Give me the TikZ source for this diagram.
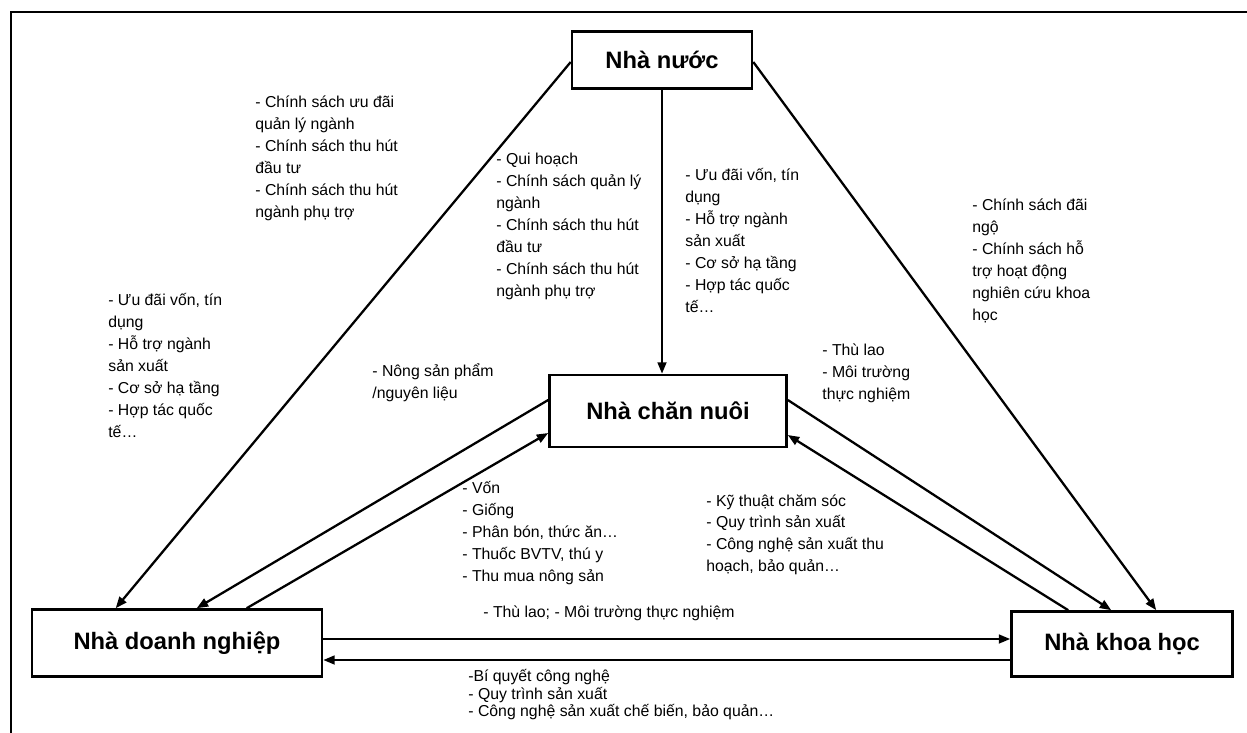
\documentclass[tikz,border=0pt]{standalone}
\usepackage{fontspec}
\setmainfont{Liberation Sans}
\usetikzlibrary{arrows.meta, calc}

\begin{document}
\begin{tikzpicture}[x=0.02cm, y=-0.02cm,
  box/.style={
    rectangle, draw=black, fill=white, line width=1.5pt,
    inner sep=0pt, align=center,
    font=\fontsize{13.5}{16}\selectfont\bfseries
  },
  note/.style={
    anchor=north west, align=left, inner sep=0pt,
    font=\fontsize{9}{12.5}\selectfont
  },
  arrow/.style={
    -{Triangle[length=6.5pt,width=5pt]}, line width=1.3pt
  }
]
\useasboundingbox (0,0) rectangle (1247,733);

% Frame
\draw[line width=1.3pt] (11,733) -- (11,12) -- (1247,12);

% Actors
\node[box, minimum width=3.6cm, minimum height=1.14cm] (nn) at (662,60) {Nhà nước};
\node[box, minimum width=4.74cm, minimum height=1.44cm] (cn) at (668,411) {Nhà chăn nuôi};
\node[box, minimum width=5.8cm, minimum height=1.34cm] (dn) at (177,643) {Nhà doanh nghiệp};
\node[box, minimum width=4.42cm, minimum height=1.3cm] (kh) at (1122,644) {Nhà khoa học};

% Nha nuoc -> others
\draw[arrow] ($(nn.west)+(0,2)$) -- ($(dn.north west)+(85,0)$);
\draw[arrow] (nn.south) -- (nn.south |- cn.north);
\draw[arrow] ($(nn.east)+(0,2)$) -- ($(kh.north west)+(146,0)$);

% Nha chan nuoi <-> Nha doanh nghiep
\draw[arrow] ($(cn.west)+(0,-11)$) -- ($(dn.north west)+(166,0)$);
\draw[arrow] ($(dn.north west)+(216,0)$) -- ($(cn.west)+(0,22)$);

% Nha chan nuoi <-> Nha khoa hoc
\draw[arrow] ($(cn.east)+(0,-11)$) -- ($(kh.north west)+(101,0)$);
\draw[arrow] ($(kh.north west)+(58,0)$) -- ($(cn.east)+(0,24)$);

% Nha doanh nghiep <-> Nha khoa hoc
\draw[arrow] ($(dn.east)+(0,-4)$) -- ($(kh.west)+(0,-5)$);
\draw[arrow] ($(kh.west)+(0,16)$) -- ($(dn.east)+(0,17)$);

% Labels
\node[note] (t1) at (255,96) {- Chính sách ưu đãi\\quản lý ngành\\- Chính sách thu hút\\đầu tư\\- Chính sách thu hút\\ngành phụ trợ};
\node[note] (t2) at (496,153) {- Qui hoạch\\- Chính sách quản lý\\ngành\\- Chính sách thu hút\\đầu tư\\- Chính sách thu hút\\ngành phụ trợ};
\node[note] (t3) at (685,168) {- Ưu đãi vốn, tín\\dụng\\- Hỗ trợ ngành\\sản xuất\\- Cơ sở hạ tầng\\- Hợp tác quốc\\tế…};
\node[note] (t4) at (108,293) {- Ưu đãi vốn, tín\\dụng\\- Hỗ trợ ngành\\sản xuất\\- Cơ sở hạ tầng\\- Hợp tác quốc\\tế…};
\node[note] (t5) at (972,199) {- Chính sách đãi\\ngộ\\- Chính sách hỗ\\trợ hoạt động\\nghiên cứu khoa\\học};
\node[note] (t6) at (372,363) {- Nông sản phẩm\\/nguyên liệu};
\node[note] (t7) at (462,481) {- Vốn\\- Giống\\- Phân bón, thức ăn…\\- Thuốc BVTV, thú y\\- Thu mua nông sản};
\node[note] (t8) at (822,344) {- Thù lao\\- Môi trường\\thực nghiệm};
\node[note] (t9) at (706,494) {- Kỹ thuật chăm sóc\\- Quy trình sản xuất\\- Công nghệ sản xuất thu\\hoạch, bảo quản…};
\node[note] (t10) at (483,606) {- Thù lao; - Môi trường thực nghiệm};
\node[note, font=\fontsize{9}{10}\selectfont] (t11) at (468,669) {-Bí quyết công nghệ\\- Quy trình sản xuất\\- Công nghệ sản xuất chế biến, bảo quản…};

\end{tikzpicture}
\end{document}
